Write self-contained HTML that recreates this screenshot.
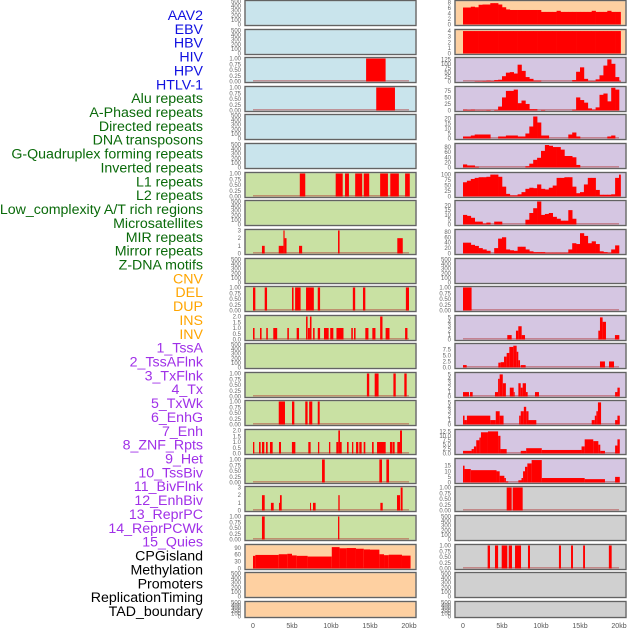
<!DOCTYPE html>
<html><head><meta charset="utf-8">
<style>
html,body{margin:0;padding:0;background:#fff;}
svg{display:block;font-family:"Liberation Sans",sans-serif;}
</style></head>
<body>
<svg id="chart" width="630" height="630" viewBox="0 0 630 630"></svg>
<script>
// ---- track labels ----
const trackLabels = ["AAV2","EBV","HBV","HIV","HPV","HTLV-1","Alu repeats","A-Phased repeats","Directed repeats","DNA transposons","G-Quadruplex forming repeats","Inverted repeats","L1 repeats","L2 repeats","Low_complexity A/T rich regions","Microsatellites","MIR repeats","Mirror repeats","Z-DNA motifs","CNV","DEL","DUP","INS","INV","1_TssA","2_TssAFlnk","3_TxFlnk","4_Tx","5_TxWk","6_EnhG","7_Enh","8_ZNF_Rpts","9_Het","10_TssBiv","11_BivFlnk","12_EnhBiv","13_ReprPC","14_ReprPCWk","15_Quies","CPGisland","Methylation","Promoters","ReplicationTiming","TAD_boundary"];
const labelGroups = [0,0,0,0,0,0,1,1,1,1,1,1,1,1,1,1,1,1,1,2,2,2,2,2,3,3,3,3,3,3,3,3,3,3,3,3,3,3,3,4,4,4,4,4];
const xTickLabels = ["0","5kb","10kb","15kb","20kb"];
const xTickValues = [0,5,10,15,20];

// ---- interval data [startKb, endKb, value] ----
const L2_intervals = [[14.5,17.0,1]];
const L3_intervals = [[15.8,18.2,1]];
const L6_intervals = [[6.0,6.7,1],[10.6,11.5,1],[11.8,12.3,1],[13.1,14.0,1],[14.2,14.9,1],[16.3,17.3,1],[17.6,18.7,1],[19.5,20.1,1]];
const L8_intervals = [[1.15,1.5,1],[3.3,3.9,1],[3.9,4.05,3],[4.05,4.3,2],[5.9,6.3,1],[10.9,11.1,3],[18.5,19.2,2]];
const L10_intervals = [[0,0.3,1],[1.5,1.8,1],[5.0,5.2,1],[5.4,6.1,1],[6.8,7.8,1],[8.3,8.6,1],[12.8,13.1,1],[14.1,14.4,1],[19.6,20.0,1]];
const L11_intervals = [[0,0.2,1],[0.9,1.1,1],[1.7,1.9,1],[2.6,3.1,1],[4.4,4.6,1],[5.6,5.9,1],[6.8,7.0,2],[7.05,7.3,1],[7.3,7.5,2],[7.7,7.9,1],[8.3,8.6,1],[9.1,9.7,1],[9.9,10.3,1],[10.7,11.6,1],[12.6,12.8,1],[12.95,13.15,1],[14.4,14.8,1],[15.3,15.7,1],[16.3,16.6,2],[17.0,17.5,1],[19.5,19.8,1]];
const L13_intervals = [[14.6,14.9,1],[15.6,16.1,1],[18.0,18.3,1],[19.4,19.7,1]];
const L14_intervals = [[3.3,4.1,1],[5.0,5.3,1],[6.7,7.0,1],[7.2,7.6,1],[8.3,8.55,1]];
const L15_intervals = [[0,0.17,1],[0.77,0.98,1],[1.15,1.45,1],[1.67,1.88,1],[2.18,2.52,1],[3.33,3.59,1],[4.99,5.43,1],[7.09,7.39,1],[8.33,8.5,1],[9.74,9.91,1],[10.68,10.94,1],[10.94,11.15,2],[11.15,11.37,1],[12.05,12.26,1],[12.69,12.86,1],[13.21,13.5,1],[13.63,13.93,1],[14.19,14.4,1],[15.26,15.47,1],[15.9,17.01,1],[17.56,17.86,1],[17.91,18.16,1],[18.5,18.85,1],[18.85,19.1,2]];
const L16_intervals = [[8.85,9.2,1],[16.2,16.54,1],[17.1,17.44,1]];
const L17_intervals = [[1.15,1.5,2],[2.3,2.65,1],[3.33,3.46,1],[3.46,3.68,2],[7.31,7.44,1],[7.69,8.03,1],[10.94,11.11,2],[16.33,16.63,1],[18.46,18.85,2],[18.93,19.18,3]];
const L18_intervals = [[1.15,1.5,1],[10.9,11.07,1]];
const L19_intervals = [[0,0.3,55],[0.3,3.3,59],[3.3,4.4,62],[4.4,5.0,64],[5.0,5.6,57],[5.6,7.0,55],[7.0,10.1,52],[10.1,11.1,93],[11.1,12.0,88],[12.0,13.2,89],[13.2,14.2,86],[14.2,15.0,83],[15.0,16.2,82],[16.2,16.8,62],[16.8,17.4,58],[17.4,19.1,60],[19.1,20.2,56]];
const R10_intervals = [[0,1.1,1]];
const R11_intervals = [[5.68,6.24,1],[6.79,7.09,2],[7.09,7.52,3],[7.52,7.95,1],[17.35,17.56,2],[17.56,17.9,5],[17.9,18.33,4],[19.48,20.04,1]];
const R12_intervals = [[0,0.47,1],[4.53,4.83,2],[4.83,5.26,2.2],[5.26,5.6,4.5],[5.6,5.94,6],[5.94,6.45,8.5],[6.45,6.88,9],[6.88,7.09,6.5],[7.09,7.31,3],[7.39,8.03,1],[17.56,18.2,2.5],[18.72,19.36,2.5]];
const R13_intervals = [[0,0.77,1],[0.9,1.24,1],[4.1,4.5,1],[4.5,4.7,4],[4.7,5.1,5],[5.1,5.5,3],[6.0,6.5,2],[6.5,6.6,1],[7.1,7.4,3],[7.4,7.65,2],[7.65,8.07,3],[8.07,8.29,1],[9.23,9.74,1],[19.5,19.8,1],[19.8,20.1,2]];
const R14_intervals = [[0,0.2,2],[0.2,0.5,1],[0.5,3.5,2],[3.5,4.2,1],[4.2,4.7,3],[4.7,5.2,2],[7.2,7.4,2],[7.4,7.8,3],[7.8,8.1,4],[8.1,8.4,3],[8.4,9.4,1],[16.5,16.9,1],[16.9,17.1,2],[17.1,17.3,3],[17.3,17.7,5],[19.5,19.8,1],[19.8,20.1,2]];
const R15_intervals = [[0,1.1,1.5],[1.1,1.4,2.5],[1.4,1.7,4],[1.7,2.1,7.5],[2.1,2.3,9],[2.3,3.2,12],[3.2,4.5,12.5],[4.5,4.8,10],[4.8,5.6,2.5],[7.4,8.1,1.5],[8.1,10.1,3],[10.1,15.2,2],[15.2,15.6,4],[15.6,16.7,8],[16.7,17.35,7],[17.35,17.6,5],[17.6,18.2,1.5],[19.5,19.8,4.5],[19.8,20.1,8]];
const R16_intervals = [[0,0.2,15],[0.2,1.0,12],[1.0,4.3,11],[4.3,4.7,10],[4.7,5.3,6],[5.3,5.5,4],[5.5,5.8,1],[7.1,7.5,2],[7.5,7.7,4],[7.7,7.95,10],[7.95,8.25,14],[8.25,8.8,17],[8.8,10.1,20],[10.1,15.6,4],[15.6,18.2,3],[19.5,20.1,5]];
const R17_intervals = [[5.6,6.24,1],[6.37,7.65,1]];
const R19_intervals = [[3.16,3.46,1],[4.1,4.5,1],[4.96,5.68,1],[5.86,6.28,1],[6.67,7.44,1],[8.33,8.59,1],[12.3,12.56,1],[13.85,14.1,1],[15.4,15.64,1],[18.7,19.06,1]];

// ---- binned data (0.5 kb bins) ----
const R0_bins = [6.2,6.2,6.5,6.3,7.2,7.3,7.3,7.8,7.8,7.3,6.3,5.5,5.3,5.3,5.3,5.3,5.3,5.3,5.3,5.3,4.6,4.6,4.6,4.6,5.0,4.6,4.6,4.6,4.6,4.6,4.6,4.6,4.6,5.0,4.6,4.6,4.6,5.0,4.6,4.6,4.6];
const R1_bins = [4,4,4,4,4,4,4,4,4,4,4,4,4,4,4,4,4,4,4,4,4,4,4,4,4,4,4,4,4,4,4,4,4,4,4,4,4,4,4,4,4];
const R2_bins = [0,0,0,2,2,3,5,3,8,10,30,50,53,45,95,60,25,15,5,5,0,0,0,0,0,0,0,0,8,55,80,15,3,3,12,35,90,125,100,25,5];
const R3_bins = [3,2,3,1,1,1,2,0,2,15,50,75,75,80,28,38,25,5,5,0,2,0,0,0,0,0,0,0,3,50,40,30,8,3,12,60,65,35,87,80,0];
const R4_bins = [2,2,3,4,4,4,4,0,0,2,2,3,3,3,2,2,5,12,22,16,3,3,0,0,0,0,0,4,6,2,0,0,0,0,0,0,0,2,3,0,0];
const R5_bins = [12,8,8,3,0,0,0,0,0,0,0,0,0,0,0,0,5,15,30,38,65,88,85,80,80,70,45,45,40,10,0,0,0,0,0,0,0,0,0,0,0];
const R6_bins = [65,72,80,85,88,88,90,100,100,90,45,12,5,5,10,20,35,40,38,55,35,32,40,50,85,85,88,88,45,15,20,55,85,85,30,8,8,8,10,85,100];
const R7_bins = [10,9,7,3,3,1,2,0,3,3,0,0,0,0,0,0,5,12,17,24,10,11,12,8,6,4,4,15,6,0,0,0,0,0,0,0,0,0,0,0,0];
const R8_bins = [40,40,32,28,20,15,10,0,20,55,60,15,12,10,25,25,15,8,5,5,5,3,3,3,3,3,3,15,38,35,75,65,38,45,35,8,5,3,15,30,0];

// ---- axis tick sets ----
const ticksEmpty = [0,100,200,300,400,500];
const ticksBinary = [0,0.25,0.5,0.75,1];
const ticksR0 = [0,2,4,6,8];
const ticksR1 = [0,1,2,3,4];
const ticksR2 = [0,25,50,75,100,125];
const ticksR3 = [0,25,50,75];
const ticksR4 = [0,5,10,15,20];
const ticksR5 = [0,20,40,60,80];
const ticksR6 = [0,25,50,75,100];
const ticksR8 = [0,20,40,60,80];
const ticksCount3 = [0,1,2,3];
const ticksHalf2 = [0,0.5,1,1.5,2];
const ticksFive = [0,1,2,3,4,5];
const ticksR12 = [0,2.5,5,7.5];
const ticksR15 = [0,2.5,5,7.5,10,12.5];
const ticksR16 = [0,5,10,15];
const ticksMeth = [0,30,60,90];

const ROWTOPS = [0,29,57,86,114,143,172,200,229,258,286,315,343,372,400,429,458,486,515,544,572,601];
const BG = {blue:"#c9e4ec",green:"#c9e1a3",orange:"#fed0a1",purple:"#d5c6e2",gray:"#d0d0d0"};

const panels = [
 [0,0,"blue",ticksEmpty,500,"empty",null],[0,1,"blue",ticksEmpty,500,"empty",null],
 [0,2,"blue",ticksBinary,1,"iv",L2_intervals],[0,3,"blue",ticksBinary,1,"iv",L3_intervals],
 [0,4,"blue",ticksEmpty,500,"empty",null],[0,5,"blue",ticksEmpty,500,"empty",null],
 [0,6,"green",ticksBinary,1,"iv",L6_intervals],[0,7,"green",ticksEmpty,500,"empty",null],
 [0,8,"green",ticksCount3,3,"iv",L8_intervals],[0,9,"green",ticksEmpty,500,"empty",null],
 [0,10,"green",ticksBinary,1,"iv",L10_intervals],[0,11,"green",ticksHalf2,2,"iv",L11_intervals],
 [0,12,"green",ticksEmpty,500,"empty",null],[0,13,"green",ticksBinary,1,"iv",L13_intervals],
 [0,14,"green",ticksBinary,1,"iv",L14_intervals],[0,15,"green",ticksHalf2,2,"iv",L15_intervals],
 [0,16,"green",ticksBinary,1,"iv",L16_intervals],[0,17,"green",ticksCount3,3,"iv",L17_intervals],
 [0,18,"green",ticksBinary,1,"iv",L18_intervals],[0,19,"orange",ticksMeth,100,"iv",L19_intervals],
 [0,20,"orange",ticksEmpty,500,"empty",null],[0,21,"orange",ticksEmpty,500,"empty",null],
 [1,0,"orange",ticksR0,8.4,"bin",R0_bins],[1,1,"orange",ticksR1,4.1,"bin",R1_bins],
 [1,2,"purple",ticksR2,130,"bin",R2_bins],[1,3,"purple",ticksR3,88,"bin",R3_bins],
 [1,4,"purple",ticksR4,23,"bin",R4_bins],[1,5,"purple",ticksR5,90,"bin",R5_bins],
 [1,6,"purple",ticksR6,105,"bin",R6_bins],[1,7,"purple",ticksR4,24,"bin",R7_bins],
 [1,8,"purple",ticksR8,85,"bin",R8_bins],[1,9,"purple",ticksEmpty,500,"empty",null],
 [1,10,"purple",ticksBinary,1,"iv",R10_intervals],[1,11,"purple",ticksFive,5.2,"iv",R11_intervals],
 [1,12,"purple",ticksR12,9.5,"iv",R12_intervals],[1,13,"purple",ticksFive,5.2,"iv",R13_intervals],
 [1,14,"purple",ticksFive,5.2,"iv",R14_intervals],[1,15,"purple",ticksR15,13,"iv",R15_intervals],
 [1,16,"purple",ticksR16,20.5,"iv",R16_intervals],[1,17,"gray",ticksBinary,1,"iv",R17_intervals],
 [1,18,"gray",ticksEmpty,500,"empty",null],[1,19,"gray",ticksBinary,1,"iv",R19_intervals],
 [1,20,"gray",ticksEmpty,500,"empty",null],[1,21,"gray",ticksEmpty,500,"empty",null]
];

const NS = "http://www.w3.org/2000/svg";
const svg = document.getElementById("chart");
function mk(tag, attrs, parent){const e=document.createElementNS(NS,tag);for(const k in attrs)e.setAttribute(k,attrs[k]);(parent||svg).appendChild(e);return e;}
const PXKB = 7.8;
function xScale(col, kb){return (col?463:253) + kb*PXKB;}
function fmt(ticks, v){
  if (ticks===ticksBinary) return v.toFixed(2);
  if (ticks===ticksHalf2 || ticksR12===ticks || ticksR15===ticks) return v.toFixed(1);
  return String(v);
}

const labelColors = ["#1010e0","#0a6a0a","#ffa500","#a030e8","#000000"];
trackLabels.forEach((t,i)=>{
  const e = mk("text",{x:203,y:20+i*13.86,"text-anchor":"end","font-size":"14.2",fill:labelColors[labelGroups[i]]});
  e.textContent = t;
  
  
});

panels.forEach(p=>{
  const [col,row,bg,ticks,ymax,kind,data] = p;
  const top = ROWTOPS[row];
  const h = row===21 ? 16 : 25;
  const px = col ? 455 : 245;
  const g = mk("g",{});
  
  
  mk("rect",{x:px,y:top+0.5,width:171,height:h,fill:BG[bg],stroke:"#9a9a9a","stroke-width":"1.6"},g);
  mk("rect",{x:px,y:top+0.5,width:171,height:h,fill:"none",stroke:"#555","stroke-width":"0.8"},g);
  const y0 = top + h - 0.5, y1 = top + 1.5;
  const yScale = v => y0 - v/ymax*(y0-y1);
  ticks.forEach(tv=>{
    const tx = mk("text",{x:col?451:241,y:yScale(tv)+2,"text-anchor":"end","font-size":"6",fill:"#666"},g);
    tx.textContent = fmt(ticks,tv);
    
    
  });
  if (kind==="empty") return;
  mk("line",{x1:xScale(col,0),x2:xScale(col,20),y1:y0-0.7,y2:y0-0.7,stroke:"#b03030","stroke-opacity":"0.6","stroke-width":"1.2"},g);
  if (kind==="iv"){
    data.forEach(d=>{
      const x = xScale(col,d[0]), w = Math.max(xScale(col,d[1])-x,1);
      const r = mk("rect",{x:x,y:yScale(d[2]),width:w,height:y0-yScale(d[2]),fill:"#ff0000"},g);
      
      
    });
  } else {
    data.forEach((v,i)=>{
      const s=i*0.5, e=Math.min(s+0.5,20.2);
      if (e<=s || v<=0) return;
      const x = xScale(col,s);
      const r = mk("rect",{x:x,y:yScale(v),width:xScale(col,e)-x+0.3,height:y0-yScale(v),fill:"#ff0000"},g);
      
      
    });
  }
});

[0,1].forEach(col=>{
  xTickValues.forEach((v,i)=>{
    const t = mk("text",{x:xScale(col,v),y:628,"text-anchor":"middle","font-size":"7",fill:"#555"});
    t.textContent = xTickLabels[i];
    
    
  });
});
</script>
</body></html>
